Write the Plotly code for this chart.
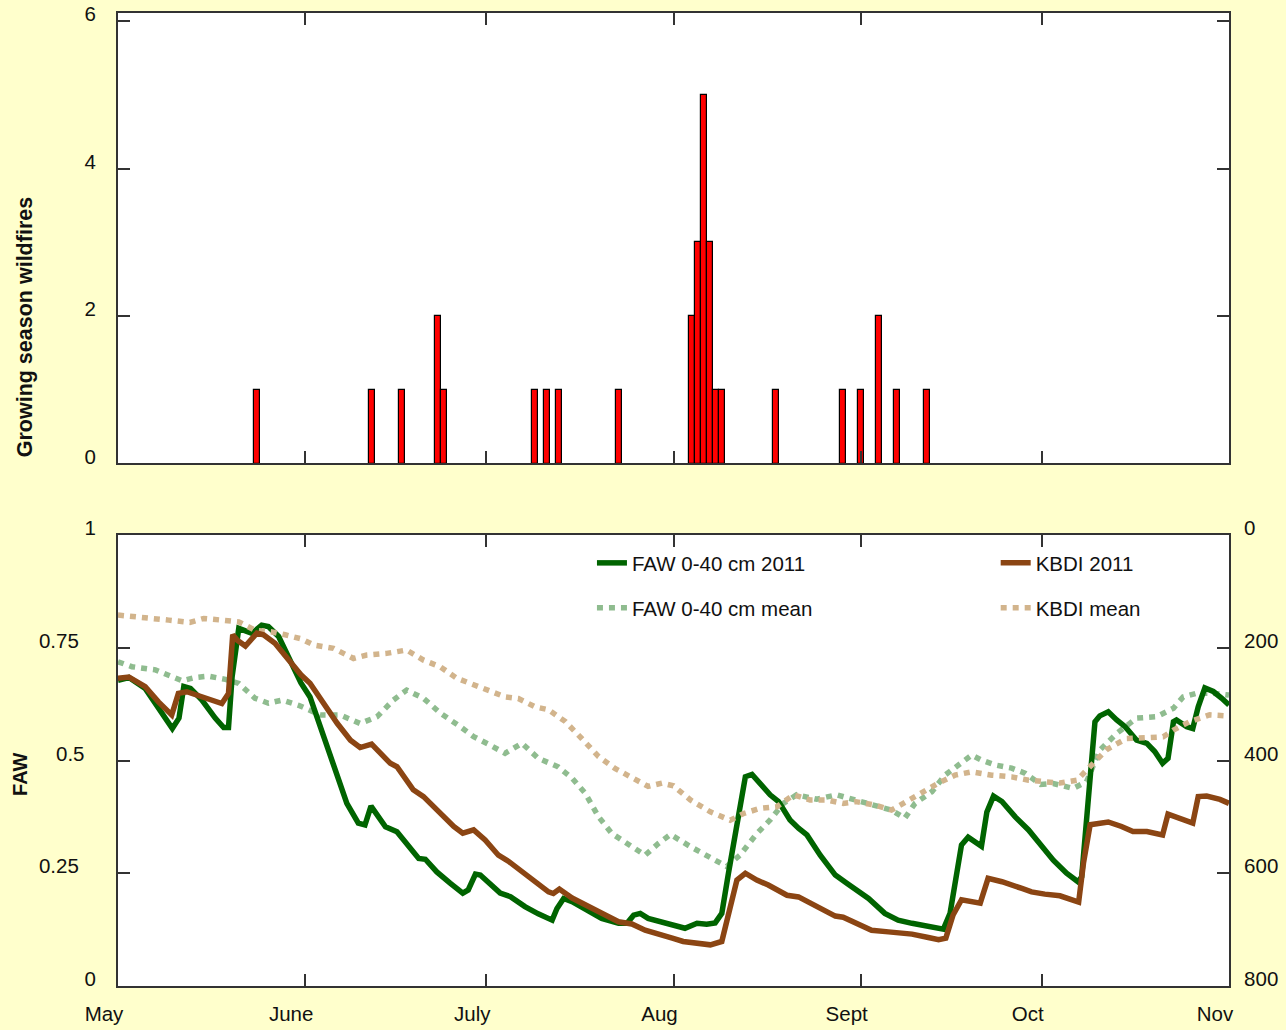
import pandas as pd
import plotly.graph_objects as go

# ---------------- data ----------------
season_start = pd.Timestamp("2011-05-01")

# Daily wildfire counts (growing season 2011)
fire_dates = ["2011-05-24", "2011-06-12", "2011-06-17", "2011-06-23", "2011-06-24",
              "2011-07-09", "2011-07-11", "2011-07-13", "2011-07-23",
              "2011-08-04", "2011-08-05", "2011-08-06", "2011-08-07", "2011-08-08",
              "2011-08-09", "2011-08-18", "2011-08-29", "2011-09-01", "2011-09-04",
              "2011-09-07", "2011-09-12"]
fire_counts = [1, 1, 1, 2, 1,
               1, 1, 1, 1,
               2, 3, 5, 3, 1,
               1, 1, 1, 1, 2,
               1, 1]

# FAW 0-40 cm, 2011 (days after 1 May)
faw_days = [0, 1.8, 4.5, 6.7, 9.0, 10.1, 10.9, 12, 13.9, 16.1, 17.5, 18.3, 18.9, 20, 21,
            22.2, 23.8, 24.9, 26.6, 28.2, 30.3, 31.8, 33.5, 35.7, 37.9, 39.8, 40.9, 41.9,
            42.9, 44.3, 46.2, 47.8, 49.8, 50.9, 52.8, 55.0, 57.1, 58.0, 59.2, 60.0, 61.8,
            63.3, 65, 67.4, 69.6, 71.9, 72.7, 73.8, 75.2, 77.4, 80.1, 82.9, 84.3, 85.4,
            86.5, 87.8, 89.5, 91.4, 93.9, 95.9, 97.5, 98.9, 100, 101.1, 102.5, 103.9, 105,
            106.3, 108, 109.4, 111.3, 112.7, 114.1, 116.3, 118.8, 120.7, 122.5, 124.3, 127,
            129.2, 131.5, 134.2, 136.7, 137.8, 138.6, 139.7, 140.8, 143, 143.9, 145, 146.4,
            148.6, 150.8, 153, 154.9, 157.1, 159, 159.6, 160.4, 161.3, 161.8, 162.6, 164,
            165.4, 166.8, 168.7, 170.4, 171.7, 173, 173.9, 174.8, 175.3, 177, 178, 178.9,
            180, 181.4, 182.8, 184]
faw_2011 = [0.678, 0.684, 0.660, 0.619, 0.571, 0.594, 0.664, 0.660, 0.634, 0.594, 0.573, 0.573,
            0.686, 0.793, 0.789, 0.782, 0.800, 0.797, 0.775, 0.730, 0.672, 0.641, 0.575, 0.486,
            0.405, 0.361, 0.357, 0.399, 0.379, 0.353, 0.342, 0.316, 0.283, 0.281, 0.253, 0.228,
            0.206, 0.213, 0.248, 0.246, 0.224, 0.206, 0.198, 0.176, 0.160, 0.146, 0.172, 0.194,
            0.187, 0.169, 0.150, 0.139, 0.139, 0.157, 0.161, 0.150, 0.143, 0.137, 0.128, 0.139,
            0.137, 0.140, 0.161, 0.250, 0.361, 0.464, 0.469, 0.449, 0.424, 0.409, 0.368, 0.350,
            0.335, 0.290, 0.246, 0.228, 0.210, 0.194, 0.161, 0.146, 0.139, 0.131, 0.126, 0.161,
            0.220, 0.313, 0.330, 0.310, 0.386, 0.421, 0.409, 0.375, 0.346, 0.312, 0.279, 0.250,
            0.231, 0.242, 0.361, 0.508, 0.586, 0.599, 0.608, 0.590, 0.575, 0.545, 0.538, 0.520,
            0.494, 0.505, 0.586, 0.590, 0.575, 0.571, 0.619, 0.661, 0.653, 0.638, 0.623]

# KBDI, 2011
kbdi_days = [0, 1.8, 4.5, 6.7, 8.9, 10, 11.4, 13.9, 15.6, 17.2, 18.3, 19, 19.7, 21.1, 23,
             24.1, 26, 28.2, 30.3, 31.8, 34, 36.3, 38.5, 40.1, 42, 43.4, 45.1, 46.2, 48.9,
             50.6, 53.4, 55.6, 57.1, 58.9, 60.8, 63, 64.7, 68, 71.3, 72.1, 73.1, 75.2, 77.9,
             80.7, 82.9, 85.1, 87.3, 89.5, 91.8, 93.6, 95.9, 98.1, 100, 101.1, 102.5, 103.9,
             105.8, 107.7, 110.8, 112.7, 115.2, 118.8, 120.1, 122.5, 124.8, 127.6, 131.5,
             134.2, 135.9, 137.1, 138.3, 139.7, 142.8, 144.1, 146.4, 149.7, 151.3, 153.5, 156,
             159.1, 159.9, 161, 164, 166.2, 168.1, 170.4, 173, 173.9, 175.9, 178, 178.9, 180.3,
             182.5, 184]
kbdi_2011 = [254, 252, 269, 296, 319, 281, 278, 286, 293, 299, 281, 177, 186, 197, 174,
             177, 192, 222, 248, 263, 299, 334, 364, 377, 371, 388, 405, 411, 452,
             464, 494, 517, 529, 523, 541, 568, 579, 606, 633, 636, 628, 644, 660,
             674, 686, 690, 701, 707, 715, 721, 725, 727, 721, 671, 612, 600,
             612, 621, 639, 642, 656, 676, 678, 690, 701, 704, 708,
             714, 718, 715, 674, 647, 653, 609, 615, 627, 633, 637, 640,
             651, 582, 514, 509, 517, 526, 526, 532, 495, 504, 511, 464, 463,
             469, 476]

# FAW 0-40 cm, long-term mean
faw_mean_days = [0, 2.3, 6.2, 8.4, 10.6, 12.8, 15, 17.8, 20, 22.7, 24.9, 27.2, 30, 33.5, 36.8,
                 40.1, 42.9, 45.6, 47.8, 50.6, 53.4, 56.7, 58.9, 61.5, 64.1, 66.9, 69.6, 72.9,
                 75.2, 77.4, 79.6, 81.8, 85.1, 87.3, 89.5, 91.5, 94.8, 98.1, 100.8, 103, 105.8,
                 108, 110.2, 112.4, 115.7, 119, 122.2, 125.4, 128.1, 130.3, 132, 134.8, 137,
                 139.2, 141.4, 143, 145.3, 148, 150.2, 152.8, 154.9, 158.2, 160.4, 162.6, 165.4,
                 168.7, 172, 174.8, 176.4, 178.6, 181.4, 184]
faw_mean = [0.719, 0.708, 0.701, 0.690, 0.677, 0.684, 0.687, 0.680, 0.671, 0.638, 0.627, 0.634,
            0.622, 0.601, 0.601, 0.582, 0.597, 0.634, 0.656, 0.638, 0.605, 0.575, 0.553, 0.535,
            0.516, 0.538, 0.505, 0.486, 0.461, 0.427, 0.375, 0.338, 0.309, 0.290, 0.316, 0.336,
            0.309, 0.283, 0.265, 0.290, 0.338, 0.368, 0.405, 0.424, 0.414, 0.424, 0.411, 0.401,
            0.390, 0.372, 0.405, 0.431, 0.468, 0.490, 0.512, 0.501, 0.490, 0.483, 0.472, 0.447,
            0.449, 0.438, 0.453, 0.523, 0.560, 0.594, 0.597, 0.616, 0.641, 0.649, 0.649, 0.645]

# KBDI, long-term mean
kbdi_mean_days = [0, 2.3, 5.6, 8.4, 11.9, 14.2, 17.2, 20, 22.7, 25.5, 27.7, 30.3, 32.4, 35.7,
                  39, 41.2, 44.5, 47.8, 50.6, 53.4, 56.1, 58.9, 61.5, 64.1, 66.3, 69.1, 71.3,
                  74.1, 76.8, 79.6, 82.3, 85.1, 87.8, 90.1, 92, 94.8, 98.1, 101.4, 103.6, 106.3,
                  109.1, 111.9, 114.6, 117.4, 120.1, 122.2, 125.4, 128.1, 130.9, 133.1, 135.9,
                  138.6, 141.4, 144.7, 148, 150.8, 152.9, 156, 158.8, 161, 163.7, 167, 170.4,
                  173.1, 174.8, 177.5, 180.8, 184]
kbdi_mean = [142, 144, 148, 151, 155, 148, 151, 154, 169, 172, 177, 184, 195, 201,
             219, 213, 210, 204, 222, 234, 254, 266, 275, 287, 290, 305, 310,
             331, 361, 393, 414, 429, 446, 440, 445, 470, 491, 506, 494, 485,
             482, 461, 470, 470, 476, 473, 479, 488, 470, 458, 440,
             426, 420, 426, 429, 435, 438, 440, 435, 411, 381, 361, 358,
             358, 346, 331, 319, 321]

month_ticks = ["2011-05-01", "2011-06-01", "2011-07-01", "2011-08-01",
               "2011-09-01", "2011-10-01", "2011-11-01"]
month_labels = ["May", "June", "July", "Aug", "Sept", "Oct", "Nov"]

faw_ticks = [0, 0.25, 0.5, 0.75, 1]
# labels padded with no-break spaces so the decimals sit further from the axis
faw_tick_labels = ["0", "0.25\u00a0\u00a0\u00a0", "0.5\u00a0\u00a0", "0.75\u00a0\u00a0\u00a0", "1"]
kbdi_ticks = [0, 200, 400, 600, 800]
fire_ticks = [0, 2, 4, 6]


def to_dates(days):
    return season_start + pd.to_timedelta(days, unit="D")


# ---------------- styling ----------------
FONT = "Liberation Sans, Arial, Helvetica, sans-serif"
BG = "#FFFFCC"
AXIS = "#333333"
TXT = "#111111"
FS = 20.5

fig = go.Figure()

fig.add_trace(go.Bar(
    x=fire_dates, y=fire_counts, width=86400000,
    marker=dict(color="#FF0000", line=dict(color="#000000", width=1.2)),
    xaxis="x", yaxis="y", showlegend=False,
))

fig.add_trace(go.Scatter(
    x=to_dates(faw_mean_days), y=faw_mean, mode="lines", name="FAW 0-40 cm mean",
    line=dict(color="#8FBC8F", width=5.5, dash="6px,6px"),
    xaxis="x2", yaxis="y2", legend="legend2",
))
fig.add_trace(go.Scatter(
    x=to_dates(kbdi_mean_days), y=kbdi_mean, mode="lines", name="KBDI mean",
    line=dict(color="#D2B48C", width=5.5, dash="6px,6px"),
    xaxis="x2", yaxis="y3", legend="legend4",
))
fig.add_trace(go.Scatter(
    x=to_dates(faw_days), y=faw_2011, mode="lines", name="FAW 0-40 cm 2011",
    line=dict(color="#006400", width=5.5),
    xaxis="x2", yaxis="y2", legend="legend",
))
fig.add_trace(go.Scatter(
    x=to_dates(kbdi_days), y=kbdi_2011, mode="lines", name="KBDI 2011",
    line=dict(color="#8B4513", width=5.5),
    xaxis="x2", yaxis="y3", legend="legend3",
))

x_range = ["2011-05-01", "2011-11-01"]
common_x = dict(
    type="date", range=x_range, tickvals=month_ticks, ticktext=month_labels,
    ticks="inside", ticklen=12, tickwidth=1.5, tickcolor=AXIS,
    showline=True, linecolor=AXIS, linewidth=2, mirror="ticks",
    showgrid=False, zeroline=False, fixedrange=True, automargin=False,
)
common_y = dict(
    ticks="inside", ticklen=12, tickwidth=1.5, tickcolor=AXIS,
    showline=True, linecolor=AXIS, linewidth=2,
    showgrid=False, zeroline=False, fixedrange=True, automargin=False,
)

legend_style = dict(font=dict(family=FONT, size=FS, color=TXT), bgcolor="rgba(0,0,0,0)",
                    borderwidth=0, xanchor="left", yanchor="middle", itemwidth=30)

fig.update_layout(
    width=1286, height=1030,
    margin=dict(l=118, r=57, t=13, b=44, autoexpand=False),
    paper_bgcolor=BG, plot_bgcolor="#FFFFFF",
    font=dict(family=FONT, size=FS, color=TXT),
    bargap=0,
    xaxis=dict(common_x, domain=[0, 1], anchor="y", showticklabels=False),
    yaxis=dict(common_y, domain=[0.537, 1], anchor="x", range=[0, 6.11],
               tickvals=fire_ticks, mirror="ticks",
               ticklabelstandoff=16, ticklabelshift=-7),
    xaxis2=dict(common_x, domain=[0, 1], anchor="y2", ticklabelshift=-14,
                ticklabelstandoff=8),
    yaxis2=dict(common_y, domain=[0, 0.4635], anchor="x2", range=[0, 1],
                tickvals=faw_ticks, ticktext=faw_tick_labels,
                mirror=False, ticklabelstandoff=16, ticklabelshift=-7),
    yaxis3=dict(common_y, overlaying="y2", side="right", anchor="x2", range=[800, 0],
                tickvals=kbdi_ticks, ticklabelstandoff=9, ticklabelshift=7),
    legend=dict(legend_style, x=0.4266, y=0.4347),
    legend2=dict(legend_style, x=0.4266, y=0.3885),
    legend3=dict(legend_style, x=0.790, y=0.4347),
    legend4=dict(legend_style, x=0.790, y=0.3885),
    annotations=[
        dict(text="<b>Growing season wildfires</b>", textangle=-90, xref="paper", yref="paper",
             x=-0.0837, y=0.677, xanchor="center", yanchor="middle", showarrow=False,
             font=dict(family=FONT, size=21.5, color=TXT)),
        dict(text="<b>FAW</b>", textangle=-90, xref="paper", yref="paper",
             x=-0.0882, y=0.2169, xanchor="center", yanchor="middle", showarrow=False,
             font=dict(family=FONT, size=20, color=TXT)),
    ],
)

fig.write_html("out.html")
